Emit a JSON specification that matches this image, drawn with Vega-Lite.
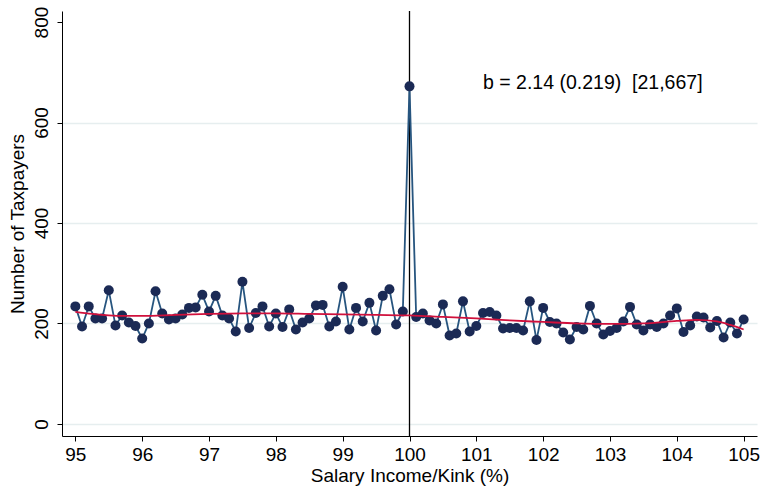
{
  "$schema": "https://vega.github.io/schema/vega-lite/v6.json",
  "width": 695,
  "height": 425,
  "autosize": {"type": "none"},
  "padding": {"left": 62, "top": 11, "right": 6, "bottom": 52},
  "background": "white",
  "config": {
    "view": {"stroke": null},
    "font": "Liberation Sans",
    "axis": {
      "domainColor": "black",
      "domainWidth": 1,
      "tickColor": "black",
      "tickWidth": 1,
      "tickSize": 5,
      "labelColor": "black",
      "titleColor": "black",
      "labelFont": "Liberation Sans",
      "titleFont": "Liberation Sans",
      "labelFontSize": 19,
      "titleFontSize": 19,
      "titleFontWeight": "normal"
    }
  },
  "datasets": {
    "bins": [
      {"x": 95.0, "count": 234}, {"x": 95.1, "count": 194}, {"x": 95.2, "count": 234}, {"x": 95.3, "count": 210}, {"x": 95.4, "count": 210},
      {"x": 95.5, "count": 266}, {"x": 95.6, "count": 196}, {"x": 95.7, "count": 216}, {"x": 95.8, "count": 202}, {"x": 95.9, "count": 195},
      {"x": 96.0, "count": 170}, {"x": 96.1, "count": 200}, {"x": 96.2, "count": 264}, {"x": 96.3, "count": 220}, {"x": 96.4, "count": 208},
      {"x": 96.5, "count": 210}, {"x": 96.6, "count": 218}, {"x": 96.7, "count": 231}, {"x": 96.8, "count": 232}, {"x": 96.9, "count": 257},
      {"x": 97.0, "count": 224}, {"x": 97.1, "count": 255}, {"x": 97.2, "count": 216}, {"x": 97.3, "count": 210}, {"x": 97.4, "count": 184},
      {"x": 97.5, "count": 283}, {"x": 97.6, "count": 191}, {"x": 97.7, "count": 221}, {"x": 97.8, "count": 234}, {"x": 97.9, "count": 194},
      {"x": 98.0, "count": 220}, {"x": 98.1, "count": 193}, {"x": 98.2, "count": 228}, {"x": 98.3, "count": 188}, {"x": 98.4, "count": 202},
      {"x": 98.5, "count": 210}, {"x": 98.6, "count": 236}, {"x": 98.7, "count": 237}, {"x": 98.8, "count": 194}, {"x": 98.9, "count": 204},
      {"x": 99.0, "count": 273}, {"x": 99.1, "count": 188}, {"x": 99.2, "count": 231}, {"x": 99.3, "count": 204}, {"x": 99.4, "count": 241},
      {"x": 99.5, "count": 186}, {"x": 99.6, "count": 255}, {"x": 99.7, "count": 268}, {"x": 99.8, "count": 198}, {"x": 99.9, "count": 224},
      {"x": 100.0, "count": 672}, {"x": 100.1, "count": 213}, {"x": 100.2, "count": 220}, {"x": 100.3, "count": 206}, {"x": 100.4, "count": 200},
      {"x": 100.5, "count": 238}, {"x": 100.6, "count": 176}, {"x": 100.7, "count": 180}, {"x": 100.8, "count": 244}, {"x": 100.9, "count": 184},
      {"x": 101.0, "count": 195}, {"x": 101.1, "count": 221}, {"x": 101.2, "count": 223}, {"x": 101.3, "count": 216}, {"x": 101.4, "count": 190},
      {"x": 101.5, "count": 191}, {"x": 101.6, "count": 191}, {"x": 101.7, "count": 186}, {"x": 101.8, "count": 244}, {"x": 101.9, "count": 167},
      {"x": 102.0, "count": 231}, {"x": 102.1, "count": 203}, {"x": 102.2, "count": 200}, {"x": 102.3, "count": 182}, {"x": 102.4, "count": 168},
      {"x": 102.5, "count": 193}, {"x": 102.6, "count": 188}, {"x": 102.7, "count": 235}, {"x": 102.8, "count": 200}, {"x": 102.9, "count": 178},
      {"x": 103.0, "count": 185}, {"x": 103.1, "count": 191}, {"x": 103.2, "count": 204}, {"x": 103.3, "count": 233}, {"x": 103.4, "count": 198},
      {"x": 103.5, "count": 186}, {"x": 103.6, "count": 198}, {"x": 103.7, "count": 193}, {"x": 103.8, "count": 200}, {"x": 103.9, "count": 216},
      {"x": 104.0, "count": 230}, {"x": 104.1, "count": 183}, {"x": 104.2, "count": 196}, {"x": 104.3, "count": 214}, {"x": 104.4, "count": 212},
      {"x": 104.5, "count": 192}, {"x": 104.6, "count": 205}, {"x": 104.7, "count": 172}, {"x": 104.8, "count": 202}, {"x": 104.9, "count": 180},
      {"x": 105.0, "count": 208}
    ],
    "fit": [
      {"x": 95.0, "fit": 223}, {"x": 95.25, "fit": 219}, {"x": 95.5, "fit": 216}, {"x": 95.75, "fit": 215},
      {"x": 96.0, "fit": 215}, {"x": 96.5, "fit": 217}, {"x": 97.0, "fit": 219}, {"x": 97.5, "fit": 220},
      {"x": 98.0, "fit": 220}, {"x": 98.5, "fit": 219}, {"x": 99.0, "fit": 218}, {"x": 99.5, "fit": 217},
      {"x": 100.0, "fit": 216}, {"x": 100.5, "fit": 213}, {"x": 101.0, "fit": 210}, {"x": 101.5, "fit": 206},
      {"x": 102.0, "fit": 203}, {"x": 102.5, "fit": 200}, {"x": 103.0, "fit": 199}, {"x": 103.5, "fit": 200},
      {"x": 104.0, "fit": 205}, {"x": 104.3, "fit": 207}, {"x": 104.6, "fit": 204}, {"x": 104.8, "fit": 197},
      {"x": 105.0, "fit": 188}
    ],
    "kink": [{"x": 100}],
    "note": [{"x": 101.1, "y": 679, "label": "b = 2.14 (0.219) \u00a0[21,667]"}]
  },
  "layer": [
    {
      "data": {"name": "bins"},
      "mark": {"type": "point", "opacity": 0},
      "encoding": {
        "x": {
          "field": "x", "type": "quantitative",
          "scale": {"domain": [94.8, 105.2], "nice": false, "zero": false},
          "axis": {"values": [95, 96, 97, 98, 99, 100, 101, 102, 103, 104, 105], "format": "d", "title": "Salary Income/Kink (%)", "grid": false, "labelPadding": 4, "titlePadding": 2}
        },
        "y": {
          "field": "count", "type": "quantitative",
          "scale": {"domain": [-24, 822], "nice": false, "zero": false},
          "axis": {
            "values": [0, 200, 400, 600, 800],
            "format": "d",
            "title": "Number of Taxpayers",
            "labelAngle": 270,
            "labelAlign": "center",
            "labelBaseline": "bottom",
            "labelPadding": 6,
            "titlePadding": 5,
            "grid": true,
            "gridColor": {"condition": {"test": "datum.value >= 800", "value": "transparent"}, "value": "#e6eeef"},
            "gridWidth": 1.5
          }
        }
      }
    },
    {
      "data": {"name": "kink"},
      "mark": {"type": "rule", "color": "black", "strokeWidth": 1.3},
      "encoding": {"x": {"field": "x", "type": "quantitative"}}
    },
    {
      "data": {"name": "bins"},
      "mark": {"type": "line", "color": "#27557f", "strokeWidth": 1.8, "point": {"filled": true, "size": 100, "color": "#1b2a55", "opacity": 1}},
      "encoding": {
        "x": {"field": "x", "type": "quantitative"},
        "y": {"field": "count", "type": "quantitative"}
      }
    },
    {
      "data": {"name": "fit"},
      "mark": {"type": "line", "color": "#d0103c", "strokeWidth": 1.8, "interpolate": "monotone"},
      "encoding": {
        "x": {"field": "x", "type": "quantitative"},
        "y": {"field": "fit", "type": "quantitative"}
      }
    },
    {
      "data": {"name": "note"},
      "mark": {"type": "text", "align": "left", "baseline": "middle", "fontSize": 19.5, "font": "Liberation Sans", "color": "black"},
      "encoding": {
        "x": {"field": "x", "type": "quantitative"},
        "y": {"field": "y", "type": "quantitative"},
        "text": {"field": "label"}
      }
    }
  ]
}
